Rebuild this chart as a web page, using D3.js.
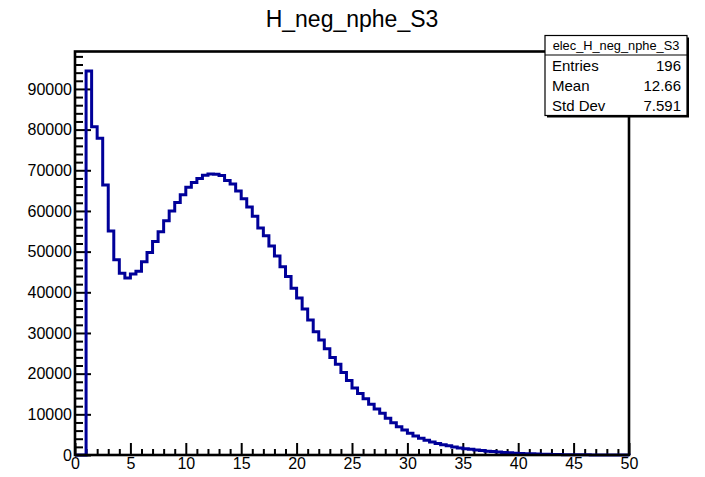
<!DOCTYPE html>
<html>
<head>
<meta charset="utf-8">
<script src="https://cdn.jsdelivr.net/npm/d3@7"></script>
<style>
  body { margin: 0; background: #fff; }
  svg { font-family: "Liberation Sans", Arial, Helvetica, sans-serif; }
  .axis text { font-size: 16px; fill: #000; }
  .axis .domain { display: none; }
  .axis line { stroke: #000; stroke-width: 2; }
</style>
</head>
<body>
<svg width="705" height="477"></svg>
<script>
// histogram: 100 bins of 0.5 from 0 to 50
const binLow = 0;
const binWidth = 0.5;
const counts = [
  0, 0, 94400, 80700, 77900, 66400, 55100, 48000, 44700, 43500,
  44500, 45200, 47500, 49800, 52500, 54900, 57600, 60000, 62100, 64000,
  65800, 67000, 68000, 68800, 69100, 69000, 68700, 67500, 66600, 64900,
  63000, 61000, 58700, 55800, 53900, 51400, 48900, 46300, 43900, 41000,
  38600, 35900, 33200, 30300, 28300, 26100, 24000, 22300, 20300, 18300,
  16500, 15100, 13800, 12500, 11300, 10250, 9050, 7950, 6950, 6150,
  5350, 4700, 4100, 3600, 3200, 2850, 2550, 2250, 1950, 1750,
  1550, 1400, 1250, 1100, 950, 830, 720, 620, 540, 460,
  390, 330, 280, 230, 190, 160, 130, 110, 90, 70,
  60, 50, 40, 30, 25, 20, 15, 10, 8, 5
];

const xTicks = [0, 5, 10, 15, 20, 25, 30, 35, 40, 45, 50];
const yTicks = [0, 10000, 20000, 30000, 40000, 50000, 60000, 70000, 80000, 90000];

const title = 'H_neg_nphe_S3';
const statsName = 'elec_H_neg_nphe_S3';
const statsLabels = ['Entries', 'Mean', 'Std Dev'];
const statsValues = ['196', '12.66', '7.591'];

const svg = d3.select('svg');

const render = () => {

    const left = 75, right = 629, top = 51.5, bottom = 455;

    const xscale = d3.scaleLinear().domain([0, 50]).range([left, right]);
    const yscale = d3.scaleLinear().domain([0, 99200]).range([bottom, top]);

    // minor ticks
    const xminor = d3.range(0, 51, 1).filter(v => v % 5 !== 0);
    const yminor = d3.range(0, 99200, 2000).filter(v => v % 10000 !== 0);

    svg.append('g').attr('class', 'axis')
        .attr('transform', 'translate(0,' + bottom + ')')
        .call(d3.axisBottom(xscale).tickValues(xminor).tickFormat('').tickSize(-6));

    svg.append('g').attr('class', 'axis')
        .attr('transform', 'translate(' + left + ',0)')
        .call(d3.axisLeft(yscale).tickValues(yminor).tickFormat('').tickSize(-8));

    svg.append('g').attr('class', 'axis')
        .attr('transform', 'translate(0,' + bottom + ')')
        .call(d3.axisBottom(xscale).tickValues(xTicks).tickFormat(d3.format('d'))
            .tickSize(-12).tickPadding(3));

    svg.append('g').attr('class', 'axis')
        .attr('transform', 'translate(' + left + ',0)')
        .call(d3.axisLeft(yscale).tickValues(yTicks).tickFormat(d3.format('d'))
            .tickSize(-16).tickPadding(3));

    // step outline
    const pts = [[binLow, 0]];
    counts.forEach((c, i) => pts.push([binLow + i * binWidth, c]));
    pts.push([binLow + counts.length * binWidth, counts[counts.length - 1]]);
    pts.push([binLow + counts.length * binWidth, 0]);

    const line = d3.line()
        .x(d => xscale(d[0]))
        .y(d => yscale(d[1]))
        .curve(d3.curveStepAfter);

    svg.append('path')
        .datum(pts)
        .attr('d', line)
        .attr('fill', 'none')
        .attr('stroke', '#000099')
        .attr('stroke-width', 3);

    // frame
    svg.append('rect')
        .attr('x', left).attr('y', top)
        .attr('width', right - left).attr('height', bottom - top)
        .attr('fill', 'none')
        .attr('stroke', '#000')
        .attr('stroke-width', 2.6);

    // title
    svg.append('text')
        .attr('x', 352)
        .attr('y', 27)
        .attr('text-anchor', 'middle')
        .style('font-size', '23px')
        .text(title);

    // stats box
    const bx = 545, by = 35.5, bw = 142, bh = 80;
    const box = svg.append('g');
    box.append('rect')
        .attr('x', bx + 2).attr('y', by + 2)
        .attr('width', bw).attr('height', bh)
        .attr('fill', '#000');
    box.append('rect')
        .attr('x', bx).attr('y', by)
        .attr('width', bw).attr('height', bh)
        .attr('fill', '#fff')
        .attr('stroke', '#000')
        .attr('stroke-width', 1.2);
    box.append('line')
        .attr('x1', bx).attr('x2', bx + bw)
        .attr('y1', 55).attr('y2', 55)
        .attr('stroke', '#000')
        .attr('stroke-width', 1.2);
    box.append('text')
        .attr('x', bx + bw / 2)
        .attr('y', 49.5)
        .attr('text-anchor', 'middle')
        .style('font-size', '12.8px')
        .text(statsName);

    statsLabels.forEach((s, i) => {
        box.append('text')
            .attr('x', 552)
            .attr('y', 71 + i * 20)
            .style('font-size', '15px')
            .text(s);
        box.append('text')
            .attr('x', 681)
            .attr('y', 71 + i * 20)
            .attr('text-anchor', 'end')
            .style('font-size', '15px')
            .text(statsValues[i]);
    });
};

render();
</script>
</body>
</html>
